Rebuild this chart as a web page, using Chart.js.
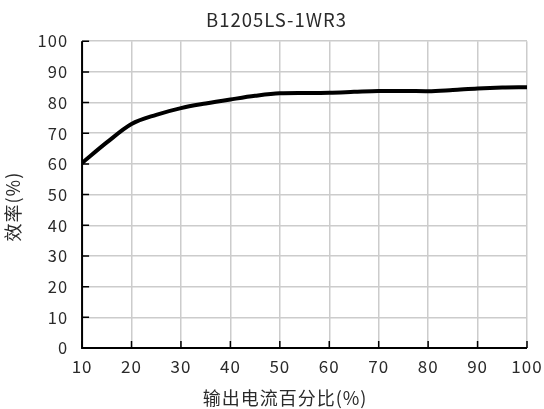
<!DOCTYPE html>
<html>
<head>
<meta charset="utf-8">
<script src="https://cdn.jsdelivr.net/npm/chart.js@4"></script>
<style>
html,body{margin:0;padding:0;background:#fff;}
#wrap{width:544px;height:409px;}
</style>
</head>
<body>
<div id="wrap"><canvas id="c" width="544" height="409"></canvas></div>
<script>
const titleText = "B1205LS-1WR3";
const xLabel = "输出电流百分比(%)";
const yLabel = "效率(%)";
const loadPct = [10, 15, 20, 25, 30, 35, 40, 45, 50, 55, 60, 65, 70, 75, 80, 85, 90, 95, 100];
const efficiency = [60.3, 67, 73, 76, 78.2, 79.7, 81, 82.2, 83, 83.1, 83.2, 83.5, 83.8, 83.8, 83.7, 84.1, 84.6, 84.9, 85];
const xTicks = [10, 20, 30, 40, 50, 60, 70, 80, 90, 100];
const yTicks = [0, 10, 20, 30, 40, 50, 60, 70, 80, 90, 100];

const fontFam = "'Noto Sans CJK SC','Noto Sans',sans-serif";
const textColor = '#2a2a2a';
// the reference centres its titles a little off the plot centre
const titleShiftX = 12;
const xTitleCenter = 285;
const yTitleShift = 12;

const spacing = {
  id: 'spacing',
  beforeUpdate(chart) { chart.ctx.letterSpacing = '1px'; },
  beforeDraw(chart) { chart.ctx.letterSpacing = '1px'; }
};

const innerTicks = {
  id: 'innerTicks',
  afterDatasetsDraw(chart) {
    const ctx = chart.ctx, x = chart.scales.x, y = chart.scales.y, a = chart.chartArea;
    ctx.save();
    ctx.strokeStyle = '#000';
    ctx.lineWidth = 1.5;
    ctx.beginPath();
    yTicks.forEach(v => { const py = y.getPixelForValue(v); ctx.moveTo(a.left, py); ctx.lineTo(a.left + 7, py); });
    xTicks.forEach(v => { const px = x.getPixelForValue(v); ctx.moveTo(px, a.bottom); ctx.lineTo(px, a.bottom - 7); });
    ctx.stroke();
    ctx.lineWidth = 2;
    ctx.beginPath();
    ctx.moveTo(a.left, a.top); ctx.lineTo(a.left, a.bottom); ctx.lineTo(a.right, a.bottom);
    ctx.stroke();
    ctx.restore();
  }
};

const chart = new Chart(document.getElementById('c'), {
  type: 'line',
  data: {
    datasets: [{
      data: loadPct.map((v, i) => ({x: v, y: efficiency[i]})),
      borderColor: '#000',
      borderWidth: 4,
      pointRadius: 0,
      cubicInterpolationMode: 'monotone',
      fill: false
    }]
  },
  options: {
    responsive: false,
    animation: false,
    devicePixelRatio: 1,
    layout: {padding: {left: 2, right: 17, top: 9, bottom: 0}},
    plugins: {
      legend: {display: false},
      tooltip: {enabled: false},
      title: {
        display: true, text: titleText, color: textColor,
        font: {family: fontFam, size: 18.5, weight: 'normal'},
        padding: {top: 0, bottom: 10}
      }
    },
    scales: {
      x: {
        type: 'linear', min: 10, max: 100,
        afterBuildTicks: s => { s.ticks = xTicks.map(v => ({value: v})); },
        afterFit: s => { s.paddingRight = 0; },
        grid: {color: '#cccccc', lineWidth: 1.5, drawTicks: false},
        border: {display: false},
        ticks: {color: textColor, font: {family: fontFam, size: 17}, padding: 8, maxRotation: 0},
        title: {display: true, text: xLabel, color: textColor, font: {family: fontFam, size: 18}, padding: {top: 3, bottom: 0}}
      },
      y: {
        type: 'linear', min: 0, max: 100,
        afterBuildTicks: s => { s.ticks = yTicks.map(v => ({value: v})); },
        grid: {color: '#cccccc', lineWidth: 1.5, drawTicks: false},
        border: {display: false},
        ticks: {color: textColor, font: {family: fontFam, size: 16.5}, padding: 14},
        title: {display: true, text: yLabel, color: textColor, font: {family: fontFam, size: 18}, padding: {top: 0, bottom: 0}}
      }
    }
  },
  plugins: [spacing, innerTicks]
});

function shifted(obj, method, dxFn, dyFn) {
  const orig = obj[method].bind(obj);
  obj[method] = function (...args) {
    const ctx = chart.ctx;
    ctx.save();
    ctx.translate(dxFn(), dyFn());
    orig(...args);
    ctx.restore();
  };
}
shifted(chart.titleBlock, 'draw', () => titleShiftX, () => 0);
shifted(chart.scales.x, 'drawTitle', () => xTitleCenter - (chart.chartArea.left + chart.chartArea.right) / 2, () => 0);
shifted(chart.scales.y, 'drawTitle', () => 0, () => yTitleShift);
chart.draw();
</script>
</body>
</html>
